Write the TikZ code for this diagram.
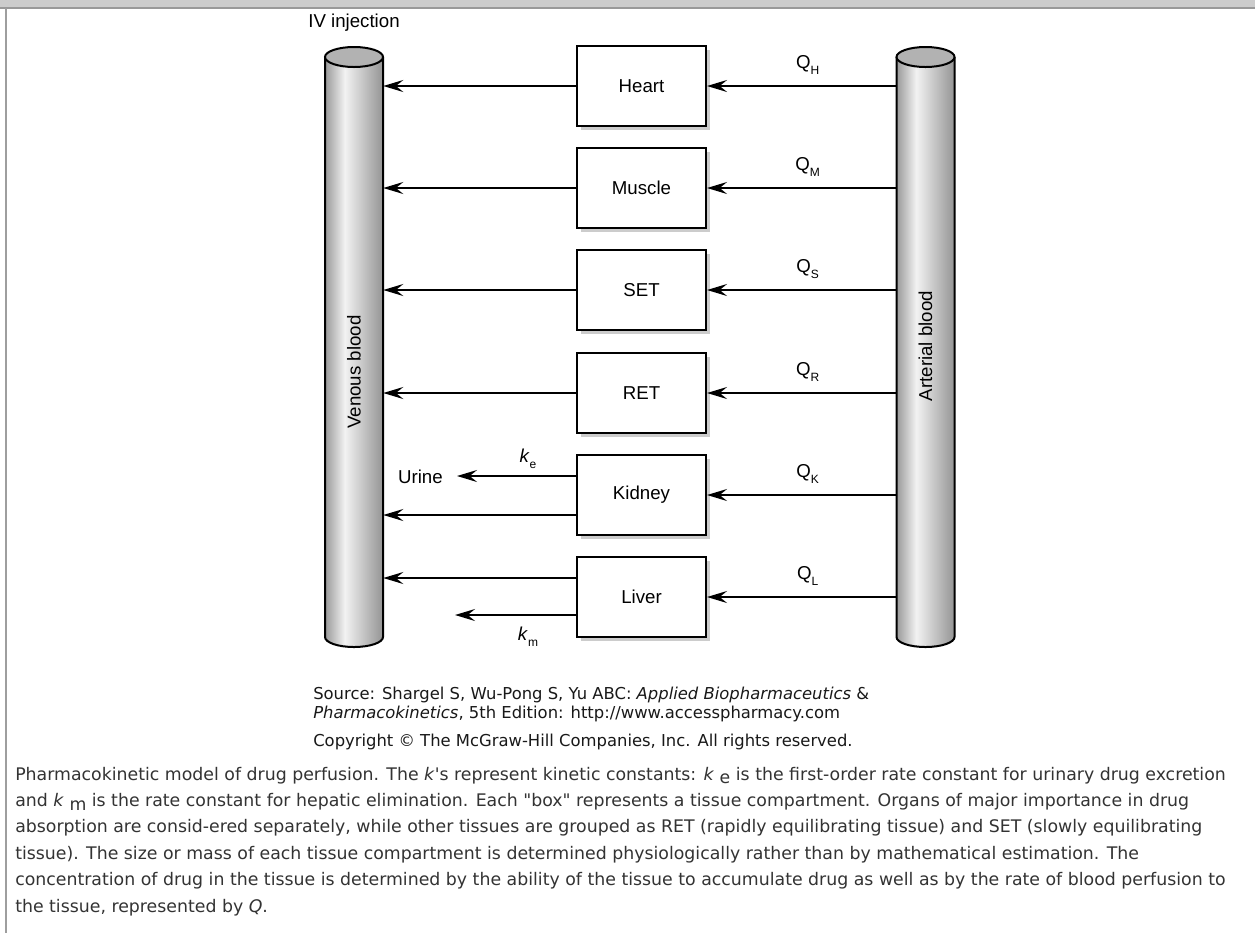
\documentclass[tikz,border=0pt]{standalone}
\usepackage{fontspec}
\setmainfont{Liberation Sans}
\newfontfamily\capfamily{DejaVu Sans}
\usetikzlibrary{arrows.meta,shadows,calc}
\pgfdeclarehorizontalshading{cylshade}{100bp}{color(0bp)=(black!40); color(25bp)=(black!40); color(42bp)=(black!5); color(75bp)=(black!42); color(100bp)=(black!42)}
\newcommand{\diagfont}{\fontsize{14pt}{16pt}\selectfont}
\newcommand{\subfont}{\fontsize{9pt}{10pt}\selectfont}
\newcommand{\capsize}{\capfamily\fontsize{13pt}{15pt}\selectfont}
\newcommand{\srcsize}{\capfamily\fontsize{12.3pt}{14pt}\selectfont}
\newcommand{\Qsub}[1]{Q\raisebox{-0.6ex}{\subfont #1}}
\newcommand{\drawcyl}[3]{%
  \pgfmathsetmacro{\cl}{#1-29}\pgfmathsetmacro{\cr}{#1+29}%
  \shade[shading=cylshade] (\cl,-#2) -- (\cl,-#3) arc[start angle=180,end angle=360,x radius=29,y radius=10] -- (\cr,-#2) arc[start angle=0,end angle=-180,x radius=29,y radius=10] -- cycle;
  \draw[line width=1.5pt] (\cl,-#2) -- (\cl,-#3) arc[start angle=180,end angle=360,x radius=29,y radius=10] -- (\cr,-#2);
  \draw[line width=1.5pt, fill=black!30] (#1,-#2) ellipse[x radius=29,y radius=10];
}
\begin{document}
\begin{tikzpicture}[x=0.75pt,y=0.75pt,
  organ/.style={draw, line width=1.5pt, fill=white, minimum width=96.75pt, minimum height=60pt, inner sep=0pt, font=\diagfont,
    drop shadow={shadow xshift=3pt, shadow yshift=-3pt, fill=black!20, opacity=1}},
  flow/.style={line width=1.5pt, -{Stealth[length=15pt,width=9pt,inset=5.5pt]}},
  lbl/.style={font=\diagfont, inner sep=0pt},
  captext/.style={font=\capsize, anchor=base west, inner sep=0pt, text=black!80},
  srctext/.style={font=\srcsize, anchor=base west, inner sep=0pt, text=black!90},
  tube/.style={minimum width=43.5pt, minimum height=435pt, inner sep=0pt}
]
\useasboundingbox (0,0) rectangle (1255,-933);
\fill[white] (0,0) rectangle (1255,-933);
% frame
\fill[black!20] (0,0) rectangle (1255,-8);
\draw[black!40, line width=1pt] (0,-8) -- (1255,-8);
\draw[black!38, line width=1.5pt] (6,-8) -- (6,-933);

% cylinders
\drawcyl{354}{57}{637}
\drawcyl{925.5}{57}{637}
\node[tube] (venous) at (354,-347) {};
\node[tube] (arterial) at (925.5,-347) {};
\node[lbl, rotate=90] (vlabel) at (354,-372) {Venous blood};
\node[lbl, rotate=90] (alabel) at (925.5,-346) {Arterial blood};
\node[lbl] (iv) at (354,-23) {IV injection};

% organs
\node[organ] (heart)  at (641.5,-86)  {Heart};
\node[organ] (muscle) at (641.5,-188) {Muscle};
\node[organ] (set)    at (641.5,-290) {SET};
\node[organ] (ret)    at (641.5,-393) {RET};
\node[organ] (kidney) at (641.5,-495) {Kidney};
\node[organ] (liver)  at (641.5,-597) {Liver};

% arterial -> organs
\foreach \o/\s in {heart/H,muscle/M,set/S,ret/R,kidney/K,liver/L}{
  \draw[flow] (\o.east -| arterial.west) -- (\o.east);
  \node[lbl] at ($(\o.east)!0.5!(\o.east -| arterial.west)+(6,21)$) {\Qsub{\s}};
}
% organs -> venous
\foreach \o in {heart,muscle,set,ret}{
  \draw[flow] (\o.west) -- (\o.west -| venous.east);
}
\coordinate (kup) at ([yshift=19*0.75pt]kidney.west);
\coordinate (kdn) at ([yshift=-20*0.75pt]kidney.west);
\coordinate (lup) at ([yshift=19*0.75pt]liver.west);
\coordinate (ldn) at ([yshift=-18*0.75pt]liver.west);
\node[lbl, anchor=east] (urine) at (443,-477) {Urine};
\coordinate (kend) at (457,-476);
\coordinate (kmend) at (455,-615);
\draw[flow] (kup) -- (kup -| kend);
\draw[flow] (kdn) -- (kdn -| venous.east);
\draw[flow] (lup) -- (lup -| venous.east);
\draw[flow] (ldn) -- (ldn -| kmend);
\node[lbl] (ke) at (528,-459) {\textit{k}\raisebox{-0.6ex}{\subfont e}};
\node[lbl] (km) at (528,-637) {\textit{k}\raisebox{-0.6ex}{\subfont m}};

% source
\node[srctext] (s1) at (313,-699) {Source: Shargel S, Wu-Pong S, Yu ABC: \textit{Applied Biopharmaceutics} \&};
\node[srctext] (s2) at (313,-718) {\textit{Pharmacokinetics}, 5th Edition: http://www.accesspharmacy.com};
\node[srctext] (s3) at (313,-746) {Copyright \textcopyright{} The McGraw-Hill Companies, Inc. All rights reserved.};

% caption
\node[captext] (c1) at (15,-780) {Pharmacokinetic model of drug perfusion. The \textit{k}'s represent kinetic constants: \textit{k} \raisebox{-0.4ex}{e} is the first-order rate constant for urinary drug excretion};
\node[captext] (c2) at (15,-806.4) {and \textit{k} \raisebox{-0.4ex}{m} is the rate constant for hepatic elimination. Each "box" represents a tissue compartment. Organs of major importance in drug};
\node[captext] (c3) at (15,-832.8) {absorption are consid-ered separately, while other tissues are grouped as RET (rapidly equilibrating tissue) and SET (slowly equilibrating};
\node[captext] (c4) at (15,-859.2) {tissue). The size or mass of each tissue compartment is determined physiologically rather than by mathematical estimation. The};
\node[captext] (c5) at (15,-885.6) {concentration of drug in the tissue is determined by the ability of the tissue to accumulate drug as well as by the rate of blood perfusion to};
\node[captext] (c6) at (15,-912) {the tissue, represented by \textit{Q}.};
\end{tikzpicture}
\end{document}
